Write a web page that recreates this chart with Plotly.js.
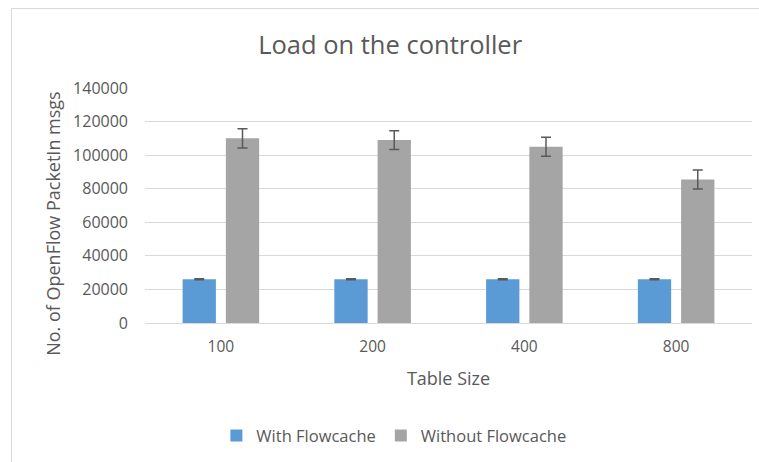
<!DOCTYPE html>
<html>
<head>
<meta charset="utf-8">
<script src="https://cdn.plot.ly/plotly-3.0.1.min.js"></script>
<style>
html,body{margin:0;padding:0;background:#fff;}
#wrap{position:absolute;left:0;top:0;width:759px;height:462px;overflow:hidden;}
#frame{position:absolute;left:11px;top:8px;width:760px;height:470px;border-left:1px solid #d9d9d9;border-top:1px solid #d9d9d9;}
#chart{position:absolute;left:0;top:0;width:759px;height:462px;}
</style>
</head>
<body>
<div id="wrap"><div id="frame"></div><div id="chart"></div></div>
<script>
const categories = ["100", "200", "400", "800"];
const withFlowcache = [26000, 26000, 26000, 26000];
const withFlowcacheErr = [300, 300, 300, 300];
const withoutFlowcache = [110000, 109000, 105000, 85500];
const withoutFlowcacheErr = [5700, 5600, 5700, 5700];
const yTicks = [0, 20000, 40000, 60000, 80000, 100000, 120000, 140000];

const font = "Open Sans, Liberation Sans, sans-serif";
const errStyle = {type: 'data', visible: true, color: '#595959', thickness: 1.5, width: 5};

const traces = [
  {type: 'bar', name: 'With Flowcache', x: categories, y: withFlowcache,
   marker: {color: '#5B9BD5'},
   error_y: Object.assign({array: withFlowcacheErr}, errStyle)},
  {type: 'bar', name: 'Without Flowcache', x: categories, y: withoutFlowcache,
   marker: {color: '#A5A5A5'},
   error_y: Object.assign({array: withoutFlowcacheErr}, errStyle)}
];

const layout = {
  width: 759, height: 462,
  margin: {l: 145, r: 7, t: 88, b: 139},
  paper_bgcolor: 'rgba(0,0,0,0)', plot_bgcolor: 'rgba(0,0,0,0)',
  font: {family: font, color: '#595959', size: 15},
  title: {text: 'Load on the controller', x: 0.514, xanchor: 'center', y: 0.903, yanchor: 'middle',
          font: {family: font, size: 25.5, color: '#595959'}},
  barmode: 'group', bargap: 0.43, bargroupgap: 0.23,
  xaxis: {type: 'category', showgrid: false, zeroline: false, showline: false, ticks: '',
          ticklabelstandoff: 12, tickfont: {size: 15.5, color: '#595959'},
          title: {text: 'Table Size', standoff: 16, font: {size: 18, color: '#595959'}}},
  yaxis: {range: [0, 140000], tickvals: yTicks, ticktext: yTicks.map(String),
          showgrid: true, gridcolor: '#d9d9d9', gridwidth: 1, zeroline: true, zerolinecolor: '#d9d9d9',
          zerolinewidth: 1, showline: false, ticks: '', ticklabelstandoff: 16,
          tickfont: {size: 16, color: '#595959'}},
  annotations: [{text: 'No. of OpenFlow PacketIn msgs', xref: 'paper', yref: 'paper',
                 x: -0.152, y: 0.425, xanchor: 'center', yanchor: 'middle', textangle: -90,
                 showarrow: false, font: {size: 18, color: '#595959'}}],
  showlegend: true,
  legend: {orientation: 'h', x: 0.41, xanchor: 'center', y: -0.48, yanchor: 'middle',
           font: {size: 16.5, color: '#595959'}, itemwidth: 20, traceorder: 'normal'}
};

Plotly.newPlot('chart', traces, layout, {displayModeBar: false, staticPlot: true});
</script>
</body>
</html>
